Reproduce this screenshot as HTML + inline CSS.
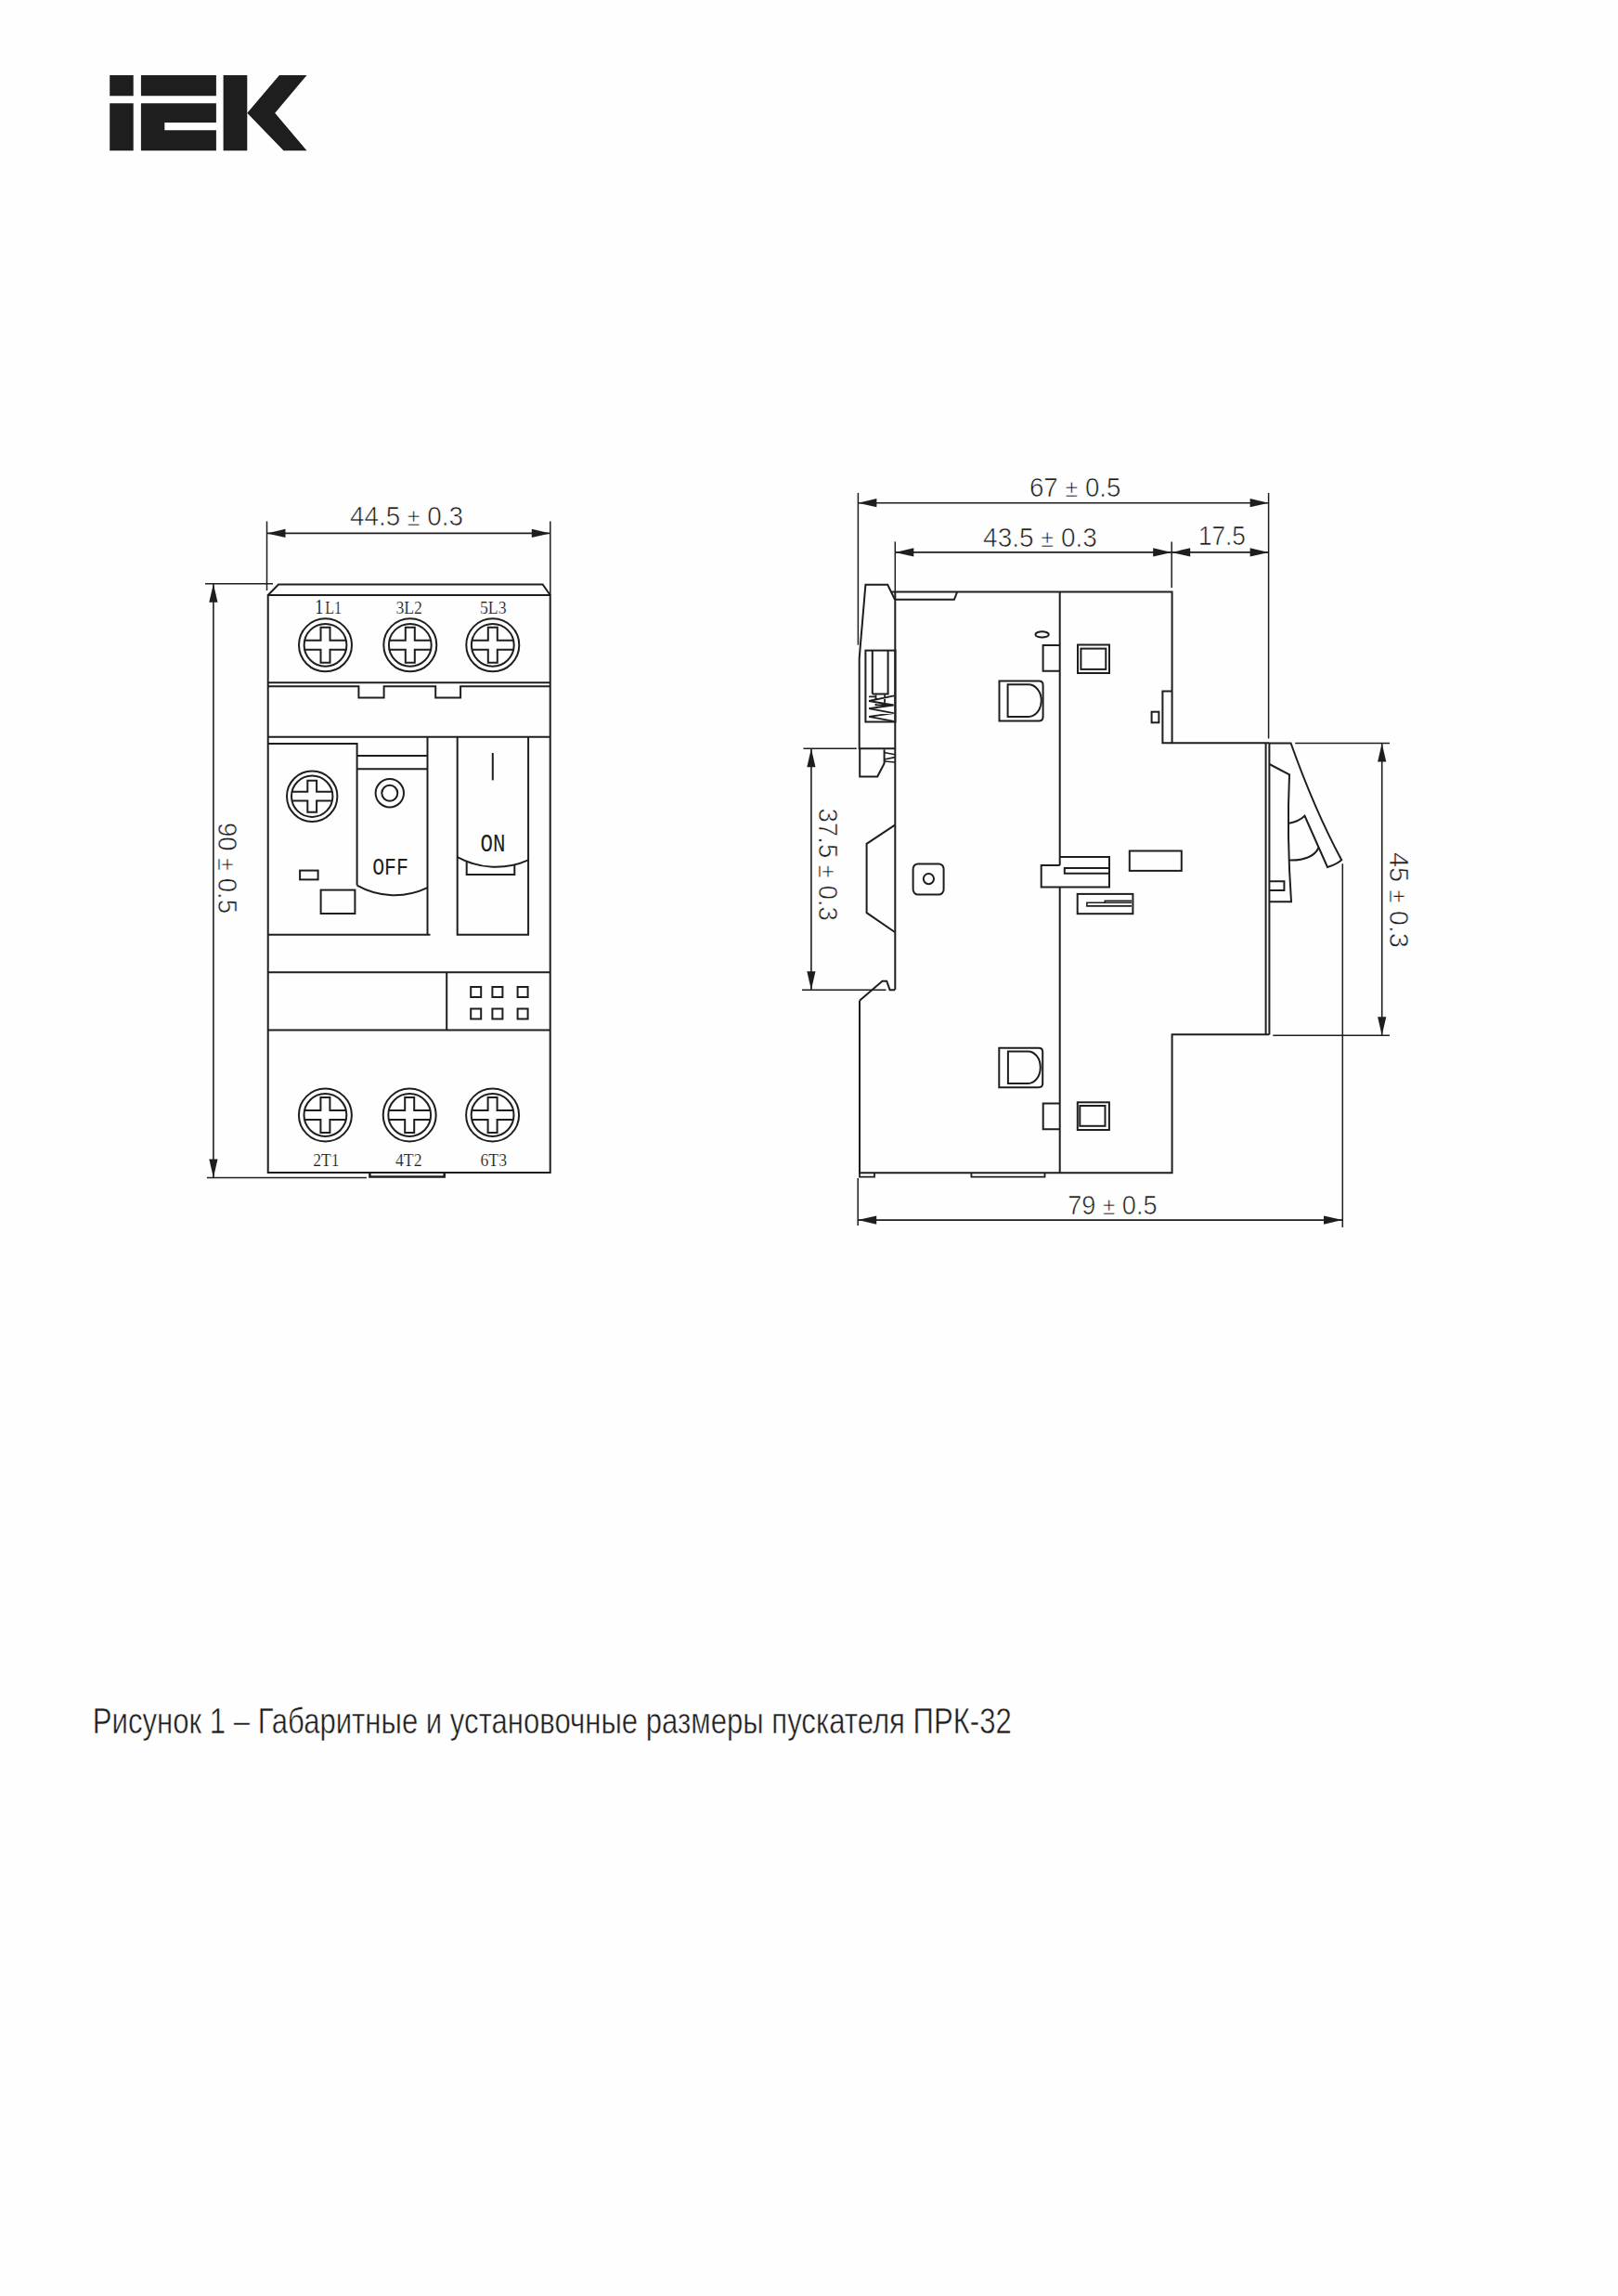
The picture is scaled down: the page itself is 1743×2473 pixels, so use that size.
<!DOCTYPE html>
<html><head><meta charset="utf-8"><title>ПРК-32</title>
<style>
html,body{margin:0;padding:0;background:#fefefe;}
body{width:1743px;height:2473px;overflow:hidden;font-family:"Liberation Sans",sans-serif;}
svg{display:block;}
</style></head><body>
<svg width="1743" height="2473" viewBox="0 0 1743 2473">
<g fill="none" stroke="#1e1e1e" stroke-width="2" stroke-linejoin="miter">
<g fill="#1e1e1e" stroke="none">
<path d="M118.2,81 H143.7 V103.3 H118.2 Z"/>
<path d="M118.2,111.3 H143.7 V162.3 H118.2 Z"/>
<path d="M151.9,81 H232.9 V103.3 H151.9 Z"/>
<path d="M151.9,111.3 H232.9 V132 H177.3 V140.3 H232.9 V162.3 H151.9 Z"/>
<path d="M240.6,81 H266.3 V162.3 H240.6 Z"/>
<path d="M300.9,81 H330.5 L296.2,121.8 L330.5,162.3 H305.5 L266.3,121.8 Z"/>
</g>
<line x1="287.5" y1="561.5" x2="287.5" y2="636" stroke-width="1.5"/>
<line x1="592.8" y1="561.5" x2="592.8" y2="641" stroke-width="1.5"/>
<line x1="287.5" y1="574.4" x2="592.8" y2="574.4" stroke-width="1.6"/>
<path d="M287.5,574.4 L307.5,569.8 L307.5,579.0 Z" fill="#1e1e1e" stroke="none"/>
<path d="M592.8,574.4 L572.8,579.0 L572.8,569.8 Z" fill="#1e1e1e" stroke="none"/>
<text x="377" y="565.7" font-family="Liberation Sans" font-size="29" fill="#1e1e1e" stroke="#fefefe" stroke-width="0.6" text-anchor="start" font-weight="normal" textLength="122" lengthAdjust="spacingAndGlyphs">44.5 <tspan font-size="26.1">±</tspan> 0.3</text>
<line x1="221" y1="628.8" x2="294" y2="628.8" stroke-width="1.5"/>
<line x1="222.9" y1="1268.5" x2="394.9" y2="1268.5" stroke-width="1.5"/>
<line x1="229.9" y1="628.8" x2="229.9" y2="1268.5" stroke-width="1.6"/>
<path d="M229.9,628.8 L234.5,648.8 L225.3,648.8 Z" fill="#1e1e1e" stroke="none"/>
<path d="M229.9,1268.5 L225.3,1248.5 L234.5,1248.5 Z" fill="#1e1e1e" stroke="none"/>
<text x="234.8" y="886" font-family="Liberation Sans" font-size="29" fill="#1e1e1e" stroke="#fefefe" stroke-width="0.6" text-anchor="start" font-weight="normal" textLength="98" lengthAdjust="spacingAndGlyphs" transform="rotate(90 234.8 886)">90 <tspan font-size="26.1">±</tspan> 0.5</text>
<path d="M288.7,641 L300,629.5 H584.6 L592.7,641"/>
<rect x="288.7" y="641" width="304.0" height="622.0"/>
<line x1="288.7" y1="735.3" x2="592.7" y2="735.3"/>
<path d="M288.7,739.3 H386.4 V751.6 H413.6 V739.3 H469.2 V751.6 H496.1 V739.3 H592.7"/>
<line x1="288.7" y1="793.7" x2="592.7" y2="793.7"/>
<text x="339.3" y="660.8" font-family="Liberation Serif" font-size="23.5" fill="#1e1e1e" stroke="none" textLength="9" lengthAdjust="spacingAndGlyphs">1</text>
<text x="350.2" y="660.8" font-family="Liberation Serif" font-size="18.5" fill="#1e1e1e" stroke="#fefefe" stroke-width="0.15" text-anchor="start" font-weight="normal" textLength="17.8" lengthAdjust="spacingAndGlyphs">L1</text>
<text x="426.4" y="661.2" font-family="Liberation Serif" font-size="18.5" fill="#1e1e1e" stroke="#fefefe" stroke-width="0.15" text-anchor="start" font-weight="normal" textLength="28.5" lengthAdjust="spacingAndGlyphs">3L2</text>
<text x="517.0" y="661.2" font-family="Liberation Serif" font-size="18.5" fill="#1e1e1e" stroke="#fefefe" stroke-width="0.15" text-anchor="start" font-weight="normal" textLength="28.5" lengthAdjust="spacingAndGlyphs">5L3</text>
<circle cx="350.5" cy="694.8" r="28.5"/>
<circle cx="350.5" cy="694.8" r="22.9"/>
<path d="M328.2,689.8 H345.5 V675.8 H355.5 V689.8 H372.8 M328.2,699.8 H345.5 V713.8 H355.5 V699.8 H372.8"/>
<circle cx="441.8" cy="694.8" r="28.5"/>
<circle cx="441.8" cy="694.8" r="22.9"/>
<path d="M419.5,689.8 H436.8 V675.8 H446.8 V689.8 H464.1 M419.5,699.8 H436.8 V713.8 H446.8 V699.8 H464.1"/>
<circle cx="530.8" cy="694.8" r="28.5"/>
<circle cx="530.8" cy="694.8" r="22.9"/>
<path d="M508.5,689.8 H525.8 V675.8 H535.8 V689.8 H553.1 M508.5,699.8 H525.8 V713.8 H535.8 V699.8 H553.1"/>
<path d="M288.7,801 H384.6 V953.6"/>
<line x1="384.6" y1="814" x2="460.5" y2="814"/>
<line x1="384.6" y1="828.3" x2="460.5" y2="828.3"/>
<line x1="460.5" y1="793.7" x2="460.5" y2="1006.8"/>
<line x1="288.7" y1="1006.8" x2="463.5" y2="1006.8"/>
<path d="M384.6,953.6 A82.2,82.2 0 0 0 460.5,956.2"/>
<circle cx="419.8" cy="854.2" r="15.2"/>
<circle cx="419.8" cy="854.2" r="8.5"/>
<circle cx="336.2" cy="857.7" r="27.2"/>
<circle cx="336.2" cy="857.7" r="22.2"/>
<path d="M314.5,852.8 H331.3 V840.7 H341.1 V852.8 H357.9 M314.5,862.6 H331.3 V874.7 H341.1 V862.6 H357.9"/>
<rect x="323.1" y="937.6" width="19.5" height="9.8"/>
<rect x="345.6" y="958.6" width="36.8" height="25.4"/>
<text x="401.2" y="941.8" font-family="Liberation Mono" font-size="26.5" fill="#1e1e1e" stroke="#fefefe" stroke-width="0" text-anchor="start" font-weight="normal" textLength="38.8" lengthAdjust="spacingAndGlyphs">OFF</text>
<path d="M492.7,794 V1006.8 H569.1 V794"/>
<line x1="530.8" y1="811" x2="530.8" y2="840.4"/>
<text x="517.4" y="916.5" font-family="Liberation Mono" font-size="27" fill="#1e1e1e" stroke="#fefefe" stroke-width="0" text-anchor="start" font-weight="normal" textLength="27" lengthAdjust="spacingAndGlyphs">ON</text>
<path d="M492.7,923.2 A86.2,86.2 0 0 0 569.1,926.4"/>
<path d="M502.7,928.2 V942 H554.3 V931.6"/>
<line x1="288.7" y1="1047.2" x2="592.7" y2="1047.2"/>
<line x1="288.7" y1="1109.5" x2="592.7" y2="1109.5"/>
<line x1="481.2" y1="1047.2" x2="481.2" y2="1109.5"/>
<rect x="507.2" y="1063" width="11.0" height="11.0"/>
<rect x="507.2" y="1086.5" width="11.0" height="11.0"/>
<rect x="530.4" y="1063" width="11.0" height="11.0"/>
<rect x="530.4" y="1086.5" width="11.0" height="11.0"/>
<rect x="557.6" y="1063" width="11.0" height="11.0"/>
<rect x="557.6" y="1086.5" width="11.0" height="11.0"/>
<circle cx="350.4" cy="1201" r="28.5"/>
<circle cx="350.4" cy="1201" r="22.9"/>
<path d="M328.1,1196.0 H345.4 V1182.0 H355.4 V1196.0 H372.7 M328.1,1206.0 H345.4 V1220.0 H355.4 V1206.0 H372.7"/>
<circle cx="441.2" cy="1201" r="28.5"/>
<circle cx="441.2" cy="1201" r="22.9"/>
<path d="M418.9,1196.0 H436.2 V1182.0 H446.2 V1196.0 H463.5 M418.9,1206.0 H436.2 V1220.0 H446.2 V1206.0 H463.5"/>
<circle cx="530.6" cy="1201" r="28.5"/>
<circle cx="530.6" cy="1201" r="22.9"/>
<path d="M508.3,1196.0 H525.6 V1182.0 H535.6 V1196.0 H552.9 M508.3,1206.0 H525.6 V1220.0 H535.6 V1206.0 H552.9"/>
<text x="337.3" y="1256.1" font-family="Liberation Serif" font-size="18.5" fill="#1e1e1e" stroke="#fefefe" stroke-width="0.15" text-anchor="start" font-weight="normal" textLength="28.4" lengthAdjust="spacingAndGlyphs">2T1</text>
<text x="426.0" y="1256.1" font-family="Liberation Serif" font-size="18.5" fill="#1e1e1e" stroke="#fefefe" stroke-width="0.15" text-anchor="start" font-weight="normal" textLength="28.5" lengthAdjust="spacingAndGlyphs">4T2</text>
<text x="517.5" y="1256.1" font-family="Liberation Serif" font-size="18.5" fill="#1e1e1e" stroke="#fefefe" stroke-width="0.15" text-anchor="start" font-weight="normal" textLength="28.5" lengthAdjust="spacingAndGlyphs">6T3</text>
<path d="M398.4,1263 V1267.5 H478.7 V1263" stroke-width="2.5"/>
<line x1="924.4" y1="530.9" x2="924.4" y2="694.7" stroke-width="1.5"/>
<line x1="1366.6" y1="530.9" x2="1366.6" y2="795.4" stroke-width="1.5"/>
<line x1="924.4" y1="541.7" x2="1366.6" y2="541.7" stroke-width="1.6"/>
<path d="M924.4,541.7 L944.4,537.1 L944.4,546.3 Z" fill="#1e1e1e" stroke="none"/>
<path d="M1366.6,541.7 L1346.6,546.3 L1346.6,537.1 Z" fill="#1e1e1e" stroke="none"/>
<text x="1108.9" y="534.6" font-family="Liberation Sans" font-size="29" fill="#1e1e1e" stroke="#fefefe" stroke-width="0.6" text-anchor="start" font-weight="normal" textLength="98.6" lengthAdjust="spacingAndGlyphs">67 <tspan font-size="26.1">±</tspan> 0.5</text>
<line x1="964.3" y1="583.4" x2="964.3" y2="637.5" stroke-width="1.5"/>
<line x1="1262.2" y1="583.4" x2="1262.2" y2="632.9" stroke-width="1.5"/>
<line x1="964.3" y1="594.9" x2="1262.2" y2="594.9" stroke-width="1.6"/>
<path d="M964.3,594.9 L984.3,590.3 L984.3,599.5 Z" fill="#1e1e1e" stroke="none"/>
<path d="M1262.2,594.9 L1242.2,599.5 L1242.2,590.3 Z" fill="#1e1e1e" stroke="none"/>
<line x1="1262.2" y1="594.9" x2="1366.6" y2="594.9" stroke-width="1.6"/>
<path d="M1262.2,594.9 L1282.2,590.3 L1282.2,599.5 Z" fill="#1e1e1e" stroke="none"/>
<path d="M1366.6,594.9 L1346.6,599.5 L1346.6,590.3 Z" fill="#1e1e1e" stroke="none"/>
<text x="1059.1" y="588.7" font-family="Liberation Sans" font-size="29" fill="#1e1e1e" stroke="#fefefe" stroke-width="0.6" text-anchor="start" font-weight="normal" textLength="122.7" lengthAdjust="spacingAndGlyphs">43.5 <tspan font-size="26.1">±</tspan> 0.3</text>
<text x="1290.9" y="587.0" font-family="Liberation Sans" font-size="29" fill="#1e1e1e" stroke="#fefefe" stroke-width="0.6" text-anchor="start" font-weight="normal" textLength="51" lengthAdjust="spacingAndGlyphs">17.5</text>
<line x1="865.4" y1="806.2" x2="922.8" y2="806.2" stroke-width="1.5"/>
<line x1="864" y1="1066.2" x2="954.5" y2="1066.2" stroke-width="1.5"/>
<line x1="873.9" y1="806.2" x2="873.9" y2="1066.2" stroke-width="1.6"/>
<path d="M873.9,806.2 L878.5,826.2 L869.3,826.2 Z" fill="#1e1e1e" stroke="none"/>
<path d="M873.9,1066.2 L869.3,1046.2 L878.5,1046.2 Z" fill="#1e1e1e" stroke="none"/>
<text x="881.6" y="870.4" font-family="Liberation Sans" font-size="29" fill="#1e1e1e" stroke="#fefefe" stroke-width="0.6" text-anchor="start" font-weight="normal" textLength="121.5" lengthAdjust="spacingAndGlyphs" transform="rotate(90 881.6 870.4)">37.5 <tspan font-size="26.1">±</tspan> 0.3</text>
<line x1="1395.2" y1="800.5" x2="1497" y2="800.5" stroke-width="1.5"/>
<line x1="1371.3" y1="1115.2" x2="1497" y2="1115.2" stroke-width="1.5"/>
<line x1="1488.7" y1="800.5" x2="1488.7" y2="1115.2" stroke-width="1.6"/>
<path d="M1488.7,800.5 L1493.3,820.5 L1484.1,820.5 Z" fill="#1e1e1e" stroke="none"/>
<path d="M1488.7,1115.2 L1484.1,1095.2 L1493.3,1095.2 Z" fill="#1e1e1e" stroke="none"/>
<text x="1497" y="918" font-family="Liberation Sans" font-size="29" fill="#1e1e1e" stroke="#fefefe" stroke-width="0.6" text-anchor="start" font-weight="normal" textLength="103" lengthAdjust="spacingAndGlyphs" transform="rotate(90 1497 918)">45 <tspan font-size="26.1">±</tspan> 0.3</text>
<line x1="924.2" y1="1268.9" x2="924.2" y2="1320" stroke-width="1.5"/>
<line x1="1446.3" y1="930.2" x2="1446.3" y2="1322" stroke-width="1.5"/>
<line x1="924.2" y1="1314.1" x2="1446.0" y2="1314.1" stroke-width="1.6"/>
<path d="M924.2,1314.1 L944.2,1309.5 L944.2,1318.7 Z" fill="#1e1e1e" stroke="none"/>
<path d="M1446.0,1314.1 L1426.0,1318.7 L1426.0,1309.5 Z" fill="#1e1e1e" stroke="none"/>
<text x="1150.2" y="1308" font-family="Liberation Sans" font-size="29" fill="#1e1e1e" stroke="#fefefe" stroke-width="0.6" text-anchor="start" font-weight="normal" textLength="96.4" lengthAdjust="spacingAndGlyphs">79 <tspan font-size="26.1">±</tspan> 0.5</text>
<path d="M960.6,637.5 H1262.6 V800.2 H1367.4 M1363.6,800.2 V1114.3 M1367.4,1114.3 H1262.6 V1263.2 H926 V1077.8"/>
<line x1="964.3" y1="637.5" x2="964.3" y2="1066.2"/>
<line x1="1141.7" y1="637.5" x2="1141.7" y2="932"/>
<line x1="1141.7" y1="955.5" x2="1141.7" y2="1263.2"/>
<path d="M964,645.8 L956.2,629.8 H932.4 L925.7,708.9 V806.2 H964.3"/>
<path d="M964,645.8 H1027.9 L1031,637.8"/>
<rect x="932.4" y="700.6" width="32.1" height="76.9"/>
<path d="M939.8,747.5 V700.6 M956.6,700.6 V747.5 H939.8"/>
<path d="M963.3,749.4 L936.1,755 L962.7,759.5 L936.1,763.2 L962.7,768.1 L936.1,771.8 L962.7,776.9 M936.1,750.4 H943.5 M943.5,748.5 V753 M953.1,748.3 V756.7 M943.5,756.5 V759.3 H956" stroke-width="1.8"/>
<path d="M926.2,806.2 V836.5 H945.2 L952.6,822.3 V807.2"/>
<path d="M952.6,810.5 L964,812.7 M952.6,818 L964,815.6 M952.6,820 L964,821" stroke-width="1.6"/>
<path d="M964,888.6 L933.6,908.8 V983.1 L964,1004"/>
<path d="M964,1066.2 H958.6 L955.2,1056.7 H950.5 L926,1077.8"/>
<rect x="983.6" y="930.4" width="33.0" height="33.1" rx="5.4"/>
<circle cx="1000.4" cy="946.6" r="5.6"/>
<ellipse cx="1122.6" cy="683.4" rx="7.2" ry="3.1"/>
<path d="M1141.7,694.9 H1123.6 V722.7 H1141.7"/>
<rect x="1161" y="694.5" width="34.0" height="30.5"/>
<rect x="1164.4" y="698.6" width="26.9" height="22.3"/>
<path d="M1076.5,733.6 H1119 Q1123.6,733.6 1123.6,738 V772 Q1123.6,776.5 1119,776.5 H1076.5 Z"/>
<path d="M1085.6,737.2 V771.9 H1107.8 A14,17.35 0 0 0 1107.8,737.2 Z"/>
<path d="M1076.3,1128.7 H1118.7 Q1123.2,1128.7 1123.2,1133 V1167 Q1123.2,1171.2 1118.7,1171.2 H1076.3 Z"/>
<path d="M1085.9,1132.4 V1167 H1107.5 A13.3,17.3 0 0 0 1107.5,1132.4 Z"/>
<path d="M1141.8,1188.6 H1123.7 V1216.2 H1141.8"/>
<rect x="1160.8" y="1187.3" width="34.1" height="29.7"/>
<rect x="1163.3" y="1191" width="27.2" height="21.8"/>
<path d="M1141.7,923 H1195 V955.5 H1121.7 V932 H1141.7"/>
<path d="M1194,935.1 H1146.8 V940.8 H1194"/>
<rect x="1216.8" y="916.5" width="56.0" height="21.4"/>
<rect x="1160.7" y="962.9" width="59.7" height="21.3"/>
<path d="M1219,972.2 H1170.9 V975.9 H1219 M1190.3,972.2 V970.3 H1219" stroke-width="1.6"/>
<path d="M1262.6,800.2 H1252.4 V744.6 H1262.6"/>
<rect x="1240.6" y="766.7" width="7.8" height="11.6"/>
<path d="M926,1263.2 V1267.7 H942 V1263.2" stroke-width="1.8"/>
<path d="M1046.4,1263.2 V1267.7 H1125.5 V1263.2" stroke-width="1.8"/>
<line x1="1367.4" y1="800.2" x2="1367.4" y2="1114.3"/>
<path d="M1367.4,800.5 H1390.6 Q1416,872 1445.2,926.3 Q1440,931 1430,934 L1405.5,878.8 Q1399,885 1388.8,886.7"/>
<path d="M1367.4,823 L1389,834.4 Q1386,900 1391,971.3 H1367.4"/>
<path d="M1388.8,926.5 Q1414,927 1420.5,913"/>
<path d="M1367.4,949.2 H1383.4 V959.1 H1367.4"/>
<text x="99.8" y="1866.6" font-family="Liberation Sans" font-size="38.5" fill="#1e1e1e" stroke="#fefefe" stroke-width="0.5" text-anchor="start" font-weight="normal" textLength="990" lengthAdjust="spacingAndGlyphs">Рисунок 1 – Габаритные и установочные размеры пускателя ПРК-32</text>
</g>
</svg>
</body></html>
